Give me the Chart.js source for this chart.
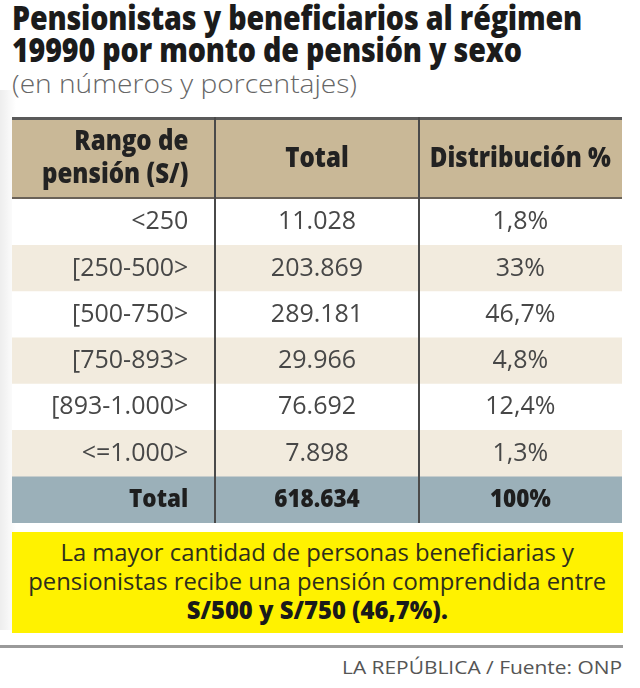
<!DOCTYPE html>
<html lang="es">
<head>
<meta charset="utf-8">
<script src="https://cdn.jsdelivr.net/npm/chart.js@4.4.1/dist/chart.umd.min.js"></script>
<style>
  html, body { margin: 0; padding: 0; background: #ffffff; }
  body { width: 640px; height: 688px; position: relative; overflow: hidden; font-family: 'Open Sans', 'Noto Sans', sans-serif; }
  .shadow { position: absolute; left: 0; top: 90px; width: 16px; height: 540px;
    background: linear-gradient(to right, rgba(0,0,0,0.07), rgba(0,0,0,0)); }
  .title { position: absolute; left: 12px; font-weight: 800; font-size: 33px; line-height: 32px;
    color: #1b1b1b; white-space: nowrap; transform-origin: left top; letter-spacing: -0.2px; }
  #t1 { top: 2px; }
  #t2 { top: 34px; }
  #sub { position: absolute; left: 12px; top: 67px; font-size: 26px; line-height: 32px; color: #666666;
    white-space: nowrap; transform-origin: left top; font-weight: 300; }
  #wrap { position: absolute; left: 12px; top: 117px; width: 610px; height: 406px; }
  #note { position: absolute; left: 12px; top: 532px; width: 611px; height: 101px; background: #fff200; }
  #noteText { position: absolute; left: 0; right: 0; top: 5px; text-align: center; font-size: 24px; line-height: 29px;
    color: #2e2e1c; white-space: nowrap; transform-origin: center top; }
  #noteText b { font-weight: 800; color: #1a1a1a; }
  #rule { position: absolute; left: 0; top: 645px; width: 623px; height: 3px; background: #9a9a9a; }
  #foot { position: absolute; right: 18px; top: 656px; font-size: 18px; line-height: 22px; color: #555;
    white-space: nowrap; transform-origin: right top; }
</style>
</head>
<body>
<div class="shadow"></div>
<div class="title" id="t1">Pensionistas y beneficiarios al régimen</div>
<div class="title" id="t2">19990 por monto de pensión y sexo</div>
<div id="sub">(en números y porcentajes)</div>
<div id="wrap"><canvas id="c" width="610" height="406"></canvas></div>
<div id="note"><div id="noteText">La mayor cantidad de personas beneficiarias y<br>pensionistas recibe una pensión comprendida entre<br><b>S/500 y S/750 (46,7%).</b></div></div>
<div id="rule"></div>
<div id="foot">LA REPÚBLICA / Fuente: ONP</div>
<script>
// ---- data ----
const headers = [['Rango de', 'pensión (S/)'], ['Total'], ['Distribución %']];
const ranges = ['<250', '[250-500>', '[500-750>', '[750-893>', '[893-1.000>', '<=1.000>', 'Total'];
const totals = [11028, 203869, 289181, 29966, 76692, 7898, 618634];
const shares = [1.8, 33, 46.7, 4.8, 12.4, 1.3, 100];

// ---- formatting helpers ----
function fmtThousands(n) { return String(n).replace(/\B(?=(\d{3})+(?!\d))/g, '.'); }
function fmtPct(p) { return String(p).replace('.', ',') + '%'; }

// ---- condense html text to width ----
function fitX(id, w) {
  const el = document.getElementById(id);
  const s = w / el.getBoundingClientRect().width;
  el.style.transform = 'scaleX(' + s + ')';
  return s;
}
const ts = fitX('t1', 570);
document.getElementById('t2').style.transform = 'scaleX(' + ts + ')';
fitX('sub', 345);
(function () {
  const el = document.getElementById('noteText');
  el.style.display = 'inline-block'; el.style.left = '0'; el.style.right = 'auto';
  const w = el.getBoundingClientRect().width;
  const s = 578 / w;
  el.style.left = ((611 - w) / 2) + 'px';
  el.style.transformOrigin = 'center top';
  el.style.transform = 'scaleX(' + s + ')';
})();
fitX('foot', 280);

// ---- colours ----
const headerBg = '#c9b897';
const rowBg = ['#ffffff', '#f2ebde', '#ffffff', '#f2ebde', '#ffffff', '#f2ebde', '#9bb0b9'];
const lineColor = '#4a4a4a';

function drawCondensed(ctx, text, x, y, align, font, color, sx) {
  ctx.save();
  ctx.font = font;
  ctx.fillStyle = color;
  ctx.textAlign = align;
  ctx.textBaseline = 'middle';
  ctx.translate(x, y);
  ctx.scale(sx, 1);
  ctx.fillText(text, 0, 0);
  ctx.restore();
}

const tablePlugin = {
  id: 'tablePlugin',
  afterDatasetsDraw(chart) {
    const { ctx, chartArea: a, scales: { x, y } } = chart;
    const ncol = headers.length;
    const x0 = x.getPixelForValue(0), xw = x.getPixelForValue(ncol) - x0;
    ctx.save();
    ctx.fillStyle = headerBg;
    ctx.fillRect(x0, 0, xw, a.top);
    ctx.fillStyle = '#5a5a5a';
    ctx.fillRect(x0, 0, xw, 3);
    ctx.fillStyle = '#6a6258';
    ctx.fillRect(x0, a.top - 2, xw, 2);
    ctx.fillStyle = lineColor;
    for (let c = 1; c < ncol; c++) {
      const px = Math.round(x.getPixelForValue(c));
      ctx.fillRect(px - 1, 0, 2, a.bottom);
    }
    ctx.restore();

    const hFont = '800 28px "Open Sans", sans-serif';
    const hMid = a.top / 2 + 1;
    const rightPad = 27;
    const c0r = x.getPixelForValue(1) - rightPad;
    const hs = 0.86;
    drawCondensed(ctx, headers[0][0], c0r, hMid - 17, 'right', hFont, '#222222', hs);
    drawCondensed(ctx, headers[0][1], c0r, hMid + 16, 'right', hFont, '#222222', hs);
    drawCondensed(ctx, headers[1][0], x.getPixelForValue(1.5), hMid, 'center', hFont, '#222222', hs);
    drawCondensed(ctx, headers[2][0], x.getPixelForValue(2.5), hMid, 'center', hFont, '#222222', hs);

    ranges.forEach((r, i) => {
      const py = y.getPixelForValue(i);
      const isTotal = i === ranges.length - 1;
      const font = isTotal ? '800 25px "Open Sans", sans-serif' : '400 25px "Open Sans", sans-serif';
      const col = isTotal ? '#1e1e1e' : '#474747';
      const sx = isTotal ? 0.9 : 1.0;
      drawCondensed(ctx, r, c0r, py, 'right', font, col, sx);
      drawCondensed(ctx, fmtThousands(totals[i]), x.getPixelForValue(1.5), py, 'center', font, col, sx);
      drawCondensed(ctx, fmtPct(shares[i]), x.getPixelForValue(2.5), py, 'center', font, col, sx);
    });
  }
};

new Chart(document.getElementById('c'), {
  type: 'bar',
  data: {
    labels: ranges,
    datasets: [{
      label: 'fila',
      data: ranges.map(() => [0, headers.length]),
      backgroundColor: rowBg,
      borderWidth: 0,
      barPercentage: 1,
      categoryPercentage: 1
    }]
  },
  options: {
    indexAxis: 'y',
    responsive: false,
    animation: false,
    devicePixelRatio: 1,
    layout: { padding: { top: 82, left: 0, right: 0, bottom: 0 } },
    scales: {
      x: { type: 'linear', min: 0, max: headers.length, display: false },
      y: { type: 'category', display: false, offset: true }
    },
    plugins: { legend: { display: false }, tooltip: { enabled: false } }
  },
  plugins: [tablePlugin]
});
</script>
</body>
</html>
